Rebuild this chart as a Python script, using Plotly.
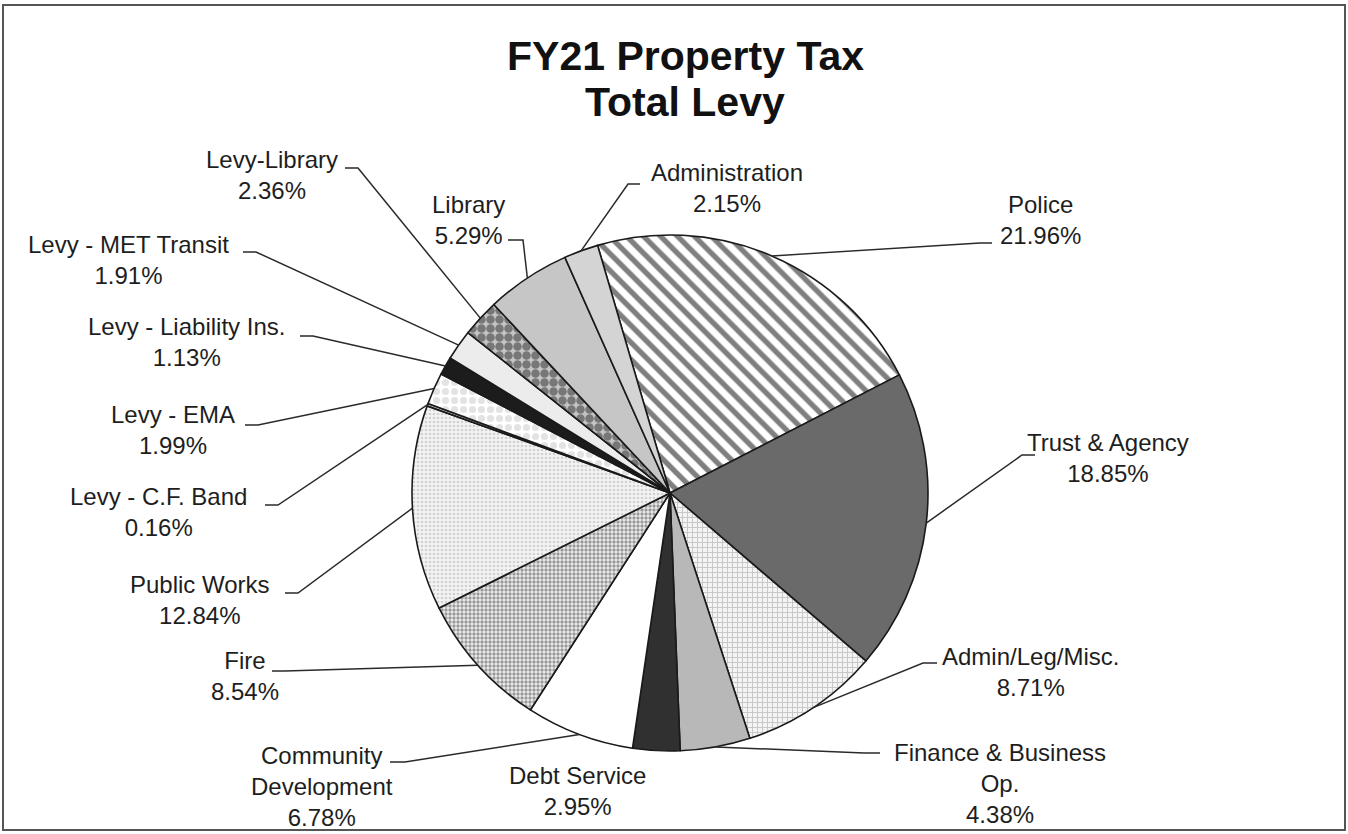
import math
import plotly.graph_objects as go

W, H = 1348, 834

categories = ["Police", "Trust & Agency", "Admin/Leg/Misc.", "Finance & Business Op.",
              "Debt Service", "Community Development", "Fire", "Public Works",
              "Levy - C.F. Band", "Levy - EMA", "Levy - Liability Ins.",
              "Levy - MET Transit", "Levy-Library", "Library", "Administration"]
values = [21.96, 18.85, 8.71, 4.38, 2.95, 6.78, 8.54, 12.84, 0.16, 1.99, 1.13, 1.91, 2.36, 5.29, 2.15]
label_text = ["Police", "Trust & Agency", "Admin/Leg/Misc.", "Finance & Business<br>Op.",
              "Debt Service", "Community<br>Development", "Fire", "Public Works",
              "Levy - C.F. Band", "Levy - EMA", "Levy - Liability Ins.",
              "Levy - MET Transit", "Levy-Library", "Library", "Administration"]

# styles (per slice)
bg_colors = ["#ffffff", "#6a6a6a", "#f4f4f4", "#b8b8b8", "#303030", "#ffffff", "#eeeeee",
             "#f3f3f3", "#dddddd", "#ffffff", "#1c1c1c", "#ececec", "#c4c4c4", "#c6c6c6", "#d4d4d4"]
pat_shapes = ["\\", "", "+", "", "", "", ".", ".", "", ".", "", "", ".", "", ""]
pat_fg = ["#000000", "#6a6a6a", "#9a9a9a", "#b8b8b8", "#303030", "#ffffff", "#444444",
          "#b0b0b0", "#dddddd", "#c8c8c8", "#1c1c1c", "#ececec", "#2a2a2a", "#c6c6c6", "#d4d4d4"]
pat_size = [12, 8, 5, 8, 8, 8, 4, 4, 8, 9, 8, 8, 9, 8, 8]
pat_solid = [0.45, 0.3, 0.35, 0.3, 0.3, 0.3, 0.55, 0.35, 0.3, 0.5, 0.3, 0.3, 0.7, 0.3, 0.3]

# label block centers (px) and leader-line anchors (px): start A, elbow E
label_pos = [(1040, 220), (1108, 458), (1030, 672), (1000, 783), (577, 791), (322, 786),
             (245, 676), (200, 600), (158, 512), (173, 430), (187, 342), (128, 260),
             (272, 175), (468, 220), (727, 188)]
leader = [((992, 243), (980, 243)), ((1035, 455), (1022, 455)), ((937, 663), (923, 663)),
          ((880, 753), (864, 753)), None, ((390, 762), (405, 762)),
          ((272, 671), (285, 671)), ((285, 593), (298, 593)), ((265, 505), (278, 505)),
          ((245, 425), (258, 425)), ((300, 336), (313, 336)), ((243, 252), (256, 252)),
          ((345, 168), (358, 168)), ((508, 240), (523, 240)), ((640, 184), (628, 184))]

rotation = -16.3
cx, cy, R = 670, 493, 258  # pie placement in px

fig = go.Figure()
fig.add_trace(go.Pie(
    labels=categories, values=values, sort=False, direction="clockwise", rotation=rotation,
    textinfo="none", hoverinfo="label+percent",
    marker=dict(colors=bg_colors, line=dict(color="#1a1a1a", width=1.6),
                pattern=dict(shape=pat_shapes, fgcolor=pat_fg, bgcolor=bg_colors,
                             size=pat_size, solidity=pat_solid, fillmode="overlay")),
    domain=dict(x=[(cx - R) / W, (cx + R) / W], y=[1 - (cy + R) / H, 1 - (cy - R) / H]),
    showlegend=False,
))

def px(x, y):
    return x / W, 1 - y / H

total = sum(values)
cum = 0.0
shapes = []
annotations = []
for i, v in enumerate(values):
    mid = cum + v / 2
    cum += v
    ang = math.radians(rotation + 360 * mid / total)
    P = (cx + R * math.sin(ang), cy - R * math.cos(ang))
    pct = f"{v:.2f}%"
    lx, ly = label_pos[i]
    ax_, ay_ = px(lx, ly)
    annotations.append(dict(x=ax_, y=ay_, xref="paper", yref="paper", showarrow=False,
                            text=label_text[i] + "<br>" + pct, align="center",
                            xanchor="center", yanchor="middle",
                            font=dict(family="Liberation Sans, Arial", size=24, color="#1e1e1e")))
    if leader[i] is not None:
        A, E = leader[i]
        pa, pe, pp = px(*A), px(*E), px(*P)
        shapes.append(dict(type="path", xref="paper", yref="paper",
                           path=f"M {pa[0]},{pa[1]} L {pe[0]},{pe[1]} L {pp[0]},{pp[1]}",
                           line=dict(color="#2a2a2a", width=1.5)))

# title (two lines)
for txt, ty in [("FY21 Property Tax", 56), ("Total Levy", 102)]:
    tx, tyy = px(685, ty)
    annotations.append(dict(x=tx, y=tyy, xref="paper", yref="paper", showarrow=False,
                            text=f"<b>{txt}</b>", xanchor="center", yanchor="middle",
                            font=dict(family="Liberation Sans, Arial", size=41, color="#111111")))

# frame
shapes.append(dict(type="rect", xref="paper", yref="paper", x0=3 / W, x1=1345 / W,
                   y0=1 - 830 / H, y1=1 - 5 / H, line=dict(color="#555555", width=2)))

fig.update_layout(width=W, height=H, margin=dict(l=0, r=0, t=0, b=0),
                  paper_bgcolor="white", plot_bgcolor="white",
                  shapes=shapes, annotations=annotations)
fig.write_html("out.html", config={"displayModeBar": False},
               post_script="document.body.style.margin='0';document.body.style.padding='0';")
